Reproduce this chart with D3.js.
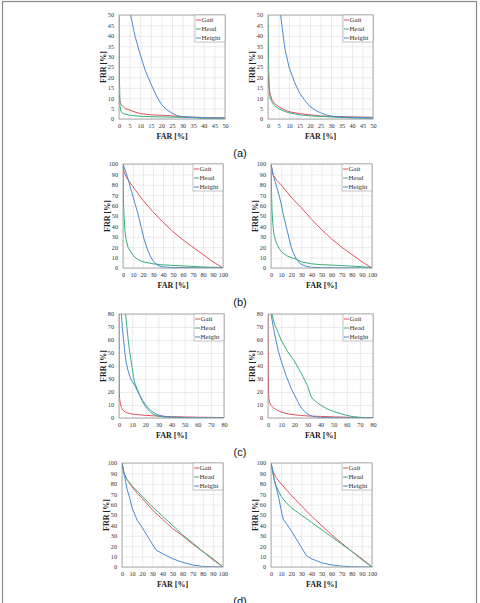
<!DOCTYPE html>
<html>
<head>
<meta charset="utf-8">
<script src="https://cdn.jsdelivr.net/npm/d3@7"></script>
<style>
  body { margin: 0; background: #fff; }
  svg { display: block; }
</style>
</head>
<body>
<div id="chart"></div>
<script>
// FAR / FRR curves, [FAR, FRR] in %
var seriesNames = ["Gait", "Head", "Height"];
var seriesColors = ["#e0555f", "#3aae7c", "#4a8ad0"];
var panelLabels = ["(a)", "(b)", "(c)", "(d)"];
var axisMax = [50, 100, 80, 100];
var tickStep = [5, 10, 10, 10];

var a1Gait = [[0,12],[0.5,8],[1,7],[2,6],[3,5],[5,4.3],[8,3.2],[10,2.6],[15,2],[20,1.8],[25,1.5],[30,1],[35,0.9],[40,0.7],[50,0.5]];
var a1Head = [[0,50],[0.2,20],[0.5,6],[1,3.5],[2,2.6],[5,1.8],[10,1.3],[15,1.1],[20,1],[30,0.8],[35,0.6],[40,0.3],[50,0.2]];
var a1Height = [[5.5,50],[7.5,40],[10,31],[12.5,23],[15,17],[17.5,11.5],[20,7],[22.5,4.5],[25,2.8],[27.5,1.6],[30,1.1],[35,0.8],[40,0.6],[50,0.5]];

var a2Gait = [[0,22],[0.5,15],[1,12],[2,9],[3,7.5],[5,6],[8,4.3],[10,3.5],[15,2.6],[20,2],[25,1.5],[30,1.2],[40,1],[50,0.8]];
var a2Head = [[0,50],[0.3,25],[0.6,15],[1,10],[2,8],[3,6.5],[5,5],[8,3.6],[10,3],[15,2],[20,1.5],[30,1],[40,0.5],[50,0.3]];
var a2Height = [[6,50],[8,34],[10,25],[12.5,18],[15,12.5],[17.5,9],[20,6],[22.5,4.2],[25,3],[27.5,2],[30,1.4],[35,1],[40,0.8],[50,0.6]];

var b1Gait = [[0,100],[1,93],[3,88],[5,85],[10,78],[20,65],[30,54],[40,44],[50,35],[60,27],[70,20],[80,13],[90,6],[100,0]];
var b1Head = [[0,100],[0.3,80],[0.6,62],[1,50],[2,35],[3,28],[5,20],[10,12],[15,8],[20,6],[30,4],[40,3],[50,2.5],[60,2],[70,1.5],[80,1],[90,0.7],[100,0.5]];
var b1Height = [[0,100],[3,92],[6,82],[9,72],[12,62],[15,52],[18,40],[21,28],[24,19],[27,12],[30,7],[33,4],[36,2],[40,1],[50,0.5],[100,0]];

var b2Gait = [[0,100],[2,90],[5,85],[10,80],[20,68],[30,58],[40,47],[50,37],[60,28],[70,20],[80,13],[90,6],[100,0]];
var b2Head = [[0,100],[0.5,75],[1,55],[2,40],[3,32],[5,25],[8,19],[10,16],[15,12],[20,10],[25,8.5],[30,6],[40,4],[50,3.2],[60,2.8],[70,2.3],[80,1.8],[90,1.2],[100,0.5]];
var b2Height = [[0,100],[2,90],[5,80],[8,70],[10,62],[12,52],[15,40],[18,28],[20,20],[22,15],[25,9],[28,5],[30,3.5],[35,1.5],[40,0.7],[50,0.3],[100,0]];

var c1Gait = [[0,80],[0.1,40],[0.2,20],[0.5,15],[1,11],[2,8],[3,6],[5,4.5],[8,3.5],[10,3],[15,2.5],[20,2],[30,1.5],[40,1],[50,0.8],[60,0.6],[70,0.5],[80,0.3]];
var c1Head = [[5,80],[6,70],[7,60],[8,52],[9,45],[10,39],[11,32],[12,27],[14,22],[16,17],[18,12.5],[20,9],[22,6.5],[24,4.5],[26,3],[28,2],[30,1.4],[35,0.7],[40,0.5],[80,0]];
var c1Height = [[1.8,80],[2.5,70],[3.5,60],[4.5,50],[5.6,42],[7,36],[9,30],[12,25],[14,21],[16,17],[18,13.5],[20,10.5],[22,8],[24,6],[26,4.5],[28,3.2],[30,2.3],[33,1.5],[36,1],[40,0.7],[50,0.4],[80,0.1]];

var c2Gait = [[0,80],[0.2,40],[0.4,22],[0.7,15],[1.2,12],[2,10],[4,8],[6,6.5],[9,5],[12,4],[16,3],[20,2.5],[25,2],[30,1.6],[40,1.2],[50,0.9],[60,0.6],[70,0.4],[80,0.2]];
var c2Head = [[3,80],[5,72],[8,65],[10,60],[15,51],[20,44],[25,35],[30,25],[33,16],[36,13],[40,10],[45,7],[50,5],[55,3.5],[60,2],[65,1],[70,0.5],[80,0.2]];
var c2Height = [[2.3,80],[4,70],[6,60],[8,51],[10,44],[12,38],[14,32],[16,27],[18,22],[20,18],[22,14],[24,10],[26,7],[28,5],[30,3.2],[32,2],[35,1],[40,0.5],[50,0.3],[80,0.1]];

var d1Gait = [[0,100],[2,90],[5,84],[10,77],[15,71],[20,66],[30,55],[40,46],[50,37],[60,30],[70,22],[80,15],[90,7],[100,0]];
var d1Head = [[0,100],[2,90],[5,84],[10,78],[20,68],[30,58],[40,49],[50,40],[60,31],[70,23],[80,15],[90,8],[100,0]];
var d1Height = [[0,100],[3,85],[5,75],[8,65],[10,57],[15,45],[20,38],[25,30],[30,22],[34,16],[40,13],[50,8],[60,4.5],[70,2],[80,0.5],[90,0.2],[100,0]];

var d2Gait = [[0,100],[2,92],[5,86],[10,80],[20,69],[30,59],[40,49],[50,40],[60,31],[70,23],[80,15],[90,8],[100,0]];
var d2Head = [[0,100],[3,85],[5,78],[10,68],[15,62],[20,57],[30,50],[40,43],[50,36],[60,29],[70,22],[80,15],[90,7],[100,0]];
var d2Height = [[0,100],[3,85],[5,77],[8,65],[10,55],[12,46],[15,42],[20,35],[25,27],[30,19],[35,11],[40,8],[50,4],[60,2],[70,0.8],[80,0.2],[100,0]];

var panelSeries = [
  [[a1Gait, a1Head, a1Height], [a2Gait, a2Head, a2Height]],
  [[b1Gait, b1Head, b1Height], [b2Gait, b2Head, b2Height]],
  [[c1Gait, c1Head, c1Height], [c2Gait, c2Head, c2Height]],
  [[d1Gait, d1Head, d1Height], [d2Gait, d2Head, d2Height]]
];

var W = 480, H = 603;
var rowTop = [15, 164, 314, 463];
var plotH = 104;
// left/right edges of plot area per row, per column
var colX = [
  [[119, 225], [268, 373]],
  [[123, 223], [271, 372]],
  [[119, 224], [268, 373]],
  [[122, 223], [271, 372]]
];
var labelY = [157, 306, 456, 605];

var svg = d3.select("#chart").append("svg")
  .attr("width", W)
  .attr("height", H);

svg.append("rect")
  .attr("x", 2.5).attr("y", 1.5)
  .attr("width", 474).attr("height", H + 10)
  .attr("fill", "none")
  .attr("stroke", "#8a8a8a")
  .attr("stroke-width", 1.2);

var serif = "'Liberation Serif', 'DejaVu Serif', serif";

panelSeries.forEach(function(row, r) {
  var max = axisMax[r];
  var ticks = d3.range(0, max + 0.001, tickStep[r]);

  row.forEach(function(series, c) {
    var x0 = colX[r][c][0], x1 = colX[r][c][1];
    var y0 = rowTop[r], y1 = rowTop[r] + plotH;
    var x = d3.scaleLinear().domain([0, max]).range([x0, x1]);
    var y = d3.scaleLinear().domain([0, max]).range([y1, y0]);

    var g = svg.append("g");
    var clipId = "clip" + r + "_" + c;
    g.append("clipPath").attr("id", clipId)
      .append("rect")
      .attr("x", x0).attr("y", y0)
      .attr("width", x1 - x0).attr("height", y1 - y0);

    // grid
    g.append("g")
      .attr("transform", "translate(0," + y1 + ")")
      .call(d3.axisBottom(x).tickValues(ticks).tickSize(-(y1 - y0)).tickFormat(""))
      .call(function(s) {
        s.select(".domain").remove();
        s.selectAll("line").attr("stroke", "#e2e2e2").attr("stroke-width", 0.7);
      });
    g.append("g")
      .attr("transform", "translate(" + x0 + ",0)")
      .call(d3.axisLeft(y).tickValues(ticks).tickSize(-(x1 - x0)).tickFormat(""))
      .call(function(s) {
        s.select(".domain").remove();
        s.selectAll("line").attr("stroke", "#e2e2e2").attr("stroke-width", 0.7);
      });

    // tick labels
    g.append("g")
      .attr("transform", "translate(0," + y1 + ")")
      .call(d3.axisBottom(x).tickValues(ticks).tickSize(0).tickPadding(5))
      .call(function(s) {
        s.select(".domain").remove();
        s.selectAll("text").attr("font-family", serif).attr("font-size", 6.2).attr("fill", "#333");
      });
    g.append("g")
      .attr("transform", "translate(" + x0 + ",0)")
      .call(d3.axisLeft(y).tickValues(ticks).tickSize(0).tickPadding(5))
      .call(function(s) {
        s.select(".domain").remove();
        s.selectAll("text").attr("font-family", serif).attr("font-size", 6.2).attr("fill", "#333");
      });

    // curves
    var line = d3.line()
      .x(function(d) { return x(d[0]); })
      .y(function(d) { return y(d[1]); });
    g.append("g").attr("clip-path", "url(#" + clipId + ")")
      .selectAll("path")
      .data(series)
      .enter().append("path")
      .attr("d", line)
      .attr("fill", "none")
      .attr("stroke", function(d, i) { return seriesColors[i]; })
      .attr("stroke-width", 1);

    // plot border
    g.append("rect")
      .attr("x", x0).attr("y", y0)
      .attr("width", x1 - x0).attr("height", y1 - y0)
      .attr("fill", "none")
      .attr("stroke", "#9a9a9a")
      .attr("stroke-width", 0.8);

    // legend
    var lg = g.append("g").attr("transform", "translate(" + (x1 - 30) + "," + y0 + ")");
    lg.append("rect")
      .attr("width", 30).attr("height", 27)
      .attr("fill", "#fff")
      .attr("stroke", "#9a9a9a")
      .attr("stroke-width", 0.6);
    seriesNames.forEach(function(name, i) {
      var ly = 5 + i * 9;
      lg.append("line")
        .attr("x1", 1).attr("x2", 6)
        .attr("y1", ly).attr("y2", ly)
        .attr("stroke", seriesColors[i]).attr("stroke-width", 1);
      lg.append("text")
        .attr("x", 6.5).attr("y", ly + 2.3)
        .attr("font-family", serif).attr("font-size", 7)
        .attr("fill", "#333")
        .text(name);
    });

    // axis titles
    g.append("text")
      .attr("x", (x0 + x1) / 2).attr("y", y1 + 20)
      .attr("text-anchor", "middle")
      .attr("font-family", serif).attr("font-size", 8).attr("font-weight", "bold")
      .attr("fill", "#222")
      .text("FAR [%]");
    g.append("text")
      .attr("transform", "translate(" + (x0 - 13) + "," + ((y0 + y1) / 2) + ") rotate(-90)")
      .attr("text-anchor", "middle")
      .attr("font-family", serif).attr("font-size", 8).attr("font-weight", "bold")
      .attr("fill", "#222")
      .text("FRR [%]");
  });

  svg.append("text")
    .attr("x", 240).attr("y", labelY[r])
    .attr("text-anchor", "middle")
    .attr("font-family", "'Liberation Sans', Arial, sans-serif")
    .attr("font-size", 11)
    .attr("fill", "#111")
    .text(panelLabels[r]);
});
</script>
</body>
</html>
